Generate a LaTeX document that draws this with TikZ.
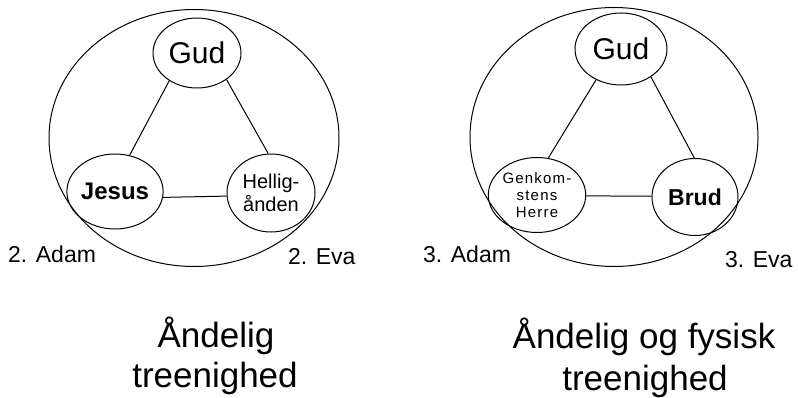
\documentclass[tikz,border=0pt]{standalone}
\usepackage{fontspec}
\setmainfont{Liberation Sans}
\usetikzlibrary{shapes.geometric}
\tikzset{
  ring/.style={draw, ellipse, line width=1pt, inner sep=0pt},
  link/.style={draw, line width=1pt},
  lbl/.style={inner sep=0pt, font=\fontsize{23}{27}\selectfont},
  ttl/.style={inner sep=0pt, font=\fontsize{35}{40}\selectfont},
}
\begin{document}
\begin{tikzpicture}[x=1pt, y=-1pt]
\useasboundingbox (0,0) rectangle (798,398);
% left diagram
\node[ring, minimum width=290, minimum height=257] (outerL) at (194,138) {};
\node[ring, minimum width=88, minimum height=70, font=\fontsize{30}{36}\selectfont] (gudL) at (197,53) {Gud};
\node[ring, minimum width=86, minimum height=75, font=\bfseries\fontsize{24}{28}\selectfont] (jesus) at (115,191.5) {Jesus};
\node[ring, minimum width=88, minimum height=78, align=center, font=\fontsize{20}{23}\selectfont] (helli) at (271,193) {Hellig-\\ånden};
\draw[link] (gudL.225) -- (jesus.68);
\draw[link] (gudL.318) -- (helli.94);
\draw[link] (jesus.-7) -- (helli.184);
\node[lbl, anchor=base west] (adam2) at (8,262) {2. Adam};
\node[lbl, anchor=base west] (eva2) at (288,265) {2. Eva};
\node[ttl, anchor=base] (tL1) at (216,347) {Åndelig};
\node[ttl, anchor=base] (tL2) at (215,387) {treenighed};
% right diagram
\node[ring, minimum width=288, minimum height=259] (outerR) at (614,137) {};
\node[ring, minimum width=92, minimum height=72, font=\fontsize{30}{36}\selectfont] (gudR) at (621,49) {Gud};
\node[ring, minimum width=86, minimum height=75, align=center, font=\addfontfeature{LetterSpace=8}\fontsize{15}{17}\selectfont] (herre) at (537,195) {Genkom-\\stens\\Herre};
\node[ring, minimum width=86, minimum height=77, font=\bfseries\fontsize{23}{27}\selectfont] (brud) at (695,197) {Brud};
\draw[link] (gudR.231) -- (herre.73);
\draw[link] (gudR.317) -- (brud.91);
\draw[link] (herre.-1) -- (brud.179);
\node[lbl, anchor=base west] (adam3) at (423,262) {3. Adam};
\node[lbl, anchor=base west] (eva3) at (725,267) {3. Eva};
\node[ttl, anchor=base] (tR1) at (644,348) {Åndelig og fysisk};
\node[ttl, anchor=base] (tR2) at (645,390) {treenighed};
\end{tikzpicture}
\end{document}
